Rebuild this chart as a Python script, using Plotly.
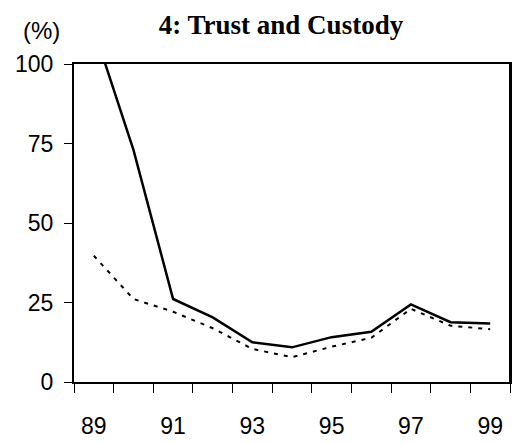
import plotly.graph_objects as go

# Years (x) and series values (%)
years = [89, 90, 91, 92, 93, 94, 95, 96, 97, 98, 99]
solid_vals = [111, 73, 26.1, 20.3, 12.5, 10.9, 14.1, 15.8, 24.4, 18.8, 18.4]
dashed_vals = [39.7, 26.1, 22.1, 16.9, 10.4, 7.8, 11.1, 13.9, 23.0, 17.7, 16.6]
label_years = [89, 91, 93, 95, 97, 99]
label_text = ['89', '91', '93', '95', '97', '99']
y_ticks = [0, 25, 50, 75, 100]

W, H = 514, 443

fig = go.Figure()
fig.add_trace(go.Scatter(x=years, y=dashed_vals, mode='lines',
                         line=dict(color='black', width=2, dash='4px,6px')))
fig.add_trace(go.Scatter(x=years, y=solid_vals, mode='lines',
                         line=dict(color='black', width=2.5)))

fig.update_layout(
    width=W, height=H,
    margin=dict(l=74, r=4, t=64, b=61),
    plot_bgcolor='white', paper_bgcolor='white',
    showlegend=False,
    title=dict(text='<b>4: Trust and Custody</b>', x=281 / W, xanchor='center',
               y=1 - 25 / H, yanchor='middle',
               font=dict(family='Liberation Serif', size=27, color='black')),
    font=dict(family='Liberation Sans', size=23, color='black'),
    annotations=[dict(text='(%)', xref='paper', yref='paper',
                      x=-53 / 436, y=1 + 33 / 318, xanchor='left', yanchor='middle',
                      showarrow=False, font=dict(size=24))],
    # right-hand edge of the frame
    shapes=[dict(type='line', xref='paper', yref='paper', x0=1, x1=1, y0=0, y1=1,
                 line=dict(color='black', width=2), layer='above')],
)

fig.update_xaxes(
    range=[88.5, 99.5], tickvals=label_years, ticktext=label_text,
    ticks='', ticklabelstandoff=22, automargin=False,
    showline=True, linecolor='black', linewidth=2, mirror=True,
    showgrid=False, zeroline=False,
    minor=dict(tickvals=[y - 0.5 for y in years] + [99.5], ticks='outside',
               ticklen=9, tickwidth=1, tickcolor='black', showgrid=False),
)
fig.update_yaxes(
    range=[0, 100], tickvals=y_ticks, ticks='outside', ticklen=8,
    tickwidth=1, tickcolor='black', ticklabelstandoff=6, automargin=False,
    showline=True, linecolor='black', linewidth=2, mirror=True,
    showgrid=False, zeroline=False,
)

# drop the default page margin and scrollbars so the figure fills the window
page_js = ("document.body.style.margin='0';"
           "document.body.style.overflow='hidden';"
           "document.documentElement.style.overflow='hidden';")
fig.write_html('out.html', config={'displayModeBar': False}, post_script=page_js)
